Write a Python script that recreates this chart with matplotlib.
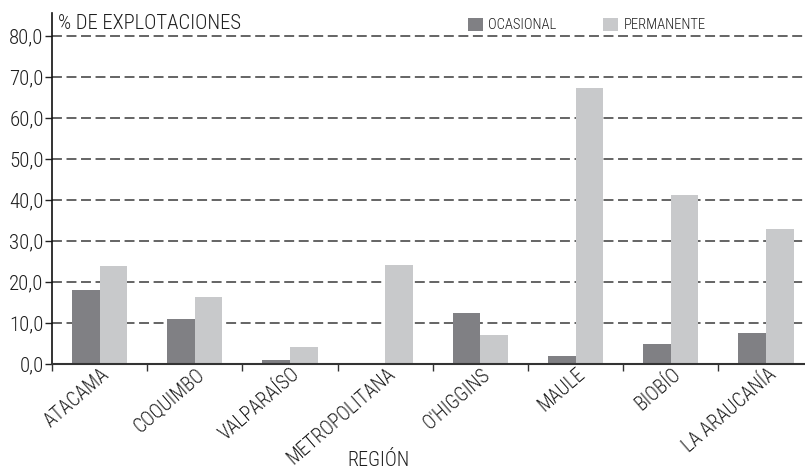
import matplotlib
matplotlib.use("Agg")
import matplotlib.pyplot as plt
from matplotlib.transforms import ScaledTranslation
import numpy as np

# data
regiones = ["ATACAMA", "COQUIMBO", "VALPARAÍSO", "METROPOLITANA",
            "O'HIGGINS", "MAULE", "BIOBÍO", "LA ARAUCANÍA"]
ocasional = [18.1, 10.9, 0.9, 0.0, 12.4, 1.9, 4.8, 7.5]
permanente = [23.8, 16.4, 4.1, 24.2, 7.0, 67.4, 41.3, 32.8]
yticks = [0, 10, 20, 30, 40, 50, 60, 70, 80]
ytick_labels = ["0,0", "10,0", "20,0", "30,0", "40,0", "50,0", "60,0", "70,0", "80,0"]

# condensed font like the original, with fallbacks
plt.rcParams['font.family'] = ['Roboto Condensed', 'Archivo Narrow', 'Barlow Condensed',
                               'Liberation Sans Narrow', 'DejaVu Sans']
plt.rcParams['font.weight'] = 'light'

c_dark = "#808084"
c_light = "#c8c9cb"
c_text = "#1e1e1e"

fig = plt.figure(figsize=(8.05, 4.71), dpi=100)
ax = fig.add_axes([0.0646, 0.2272, 0.9354, 0.7452])

x = np.arange(len(regiones))
w = 0.29
ax.bar(x - w / 2, ocasional, w, color=c_dark, zorder=3, label="OCASIONAL")
ax.bar(x + w / 2, permanente, w, color=c_light, zorder=3, label="PERMANENTE")

ax.set_xlim(-0.5, 7.41)
ax.set_ylim(0, 85.6)

# dashed grid lines
for v in yticks[1:]:
    ax.axhline(v, color="#3a3a3a", lw=1.1, ls=(0, (6.5, 3)), zorder=1)

ax.set_yticks(yticks)
ax.set_yticklabels(ytick_labels, fontsize=15, color=c_text)
ax.tick_params(axis="y", length=5, width=1, pad=1, color="#222222")

# ticks between the groups, labels at group centers
ax.set_xticks(np.arange(-0.5, 7.5, 1.0))
ax.set_xticklabels([])
ax.tick_params(axis="x", length=5, width=1, color="#333333")
ax.set_xticks(x, minor=True)
ax.set_xticklabels(regiones, minor=True, rotation=41, ha="right", va="top",
                   rotation_mode="anchor", fontsize=14.1, color=c_text)
ax.tick_params(axis="x", which="minor", length=0, pad=0.5)
shift = ScaledTranslation(1 / 100, 0, fig.dpi_scale_trans)
for lab in ax.get_xticklabels(minor=True):
    lab.set_transform(lab.get_transform() + shift)

for s in ["top", "right"]:
    ax.spines[s].set_visible(False)
ax.spines["left"].set_color("#111111")
ax.spines["left"].set_linewidth(1.2)
ax.spines["bottom"].set_color("#333333")
ax.spines["bottom"].set_linewidth(1.5)
ax.spines["bottom"].set_zorder(4)

ax.text(0.008, 0.997, "% DE EXPLOTACIONES", transform=ax.transAxes,
        ha="left", va="top", fontsize=14.9, color=c_text)

ax.legend(loc="upper left", bbox_to_anchor=(0.535, 1.022), ncol=2, frameon=False,
          fontsize=10.5, handlelength=1.0, handleheight=0.9, columnspacing=3.2,
          handletextpad=0.4, labelcolor=c_text)

fig.text(378 / 805, 1 - 461 / 471, "REGIÓN", ha="center", va="center",
         fontsize=14.5, color=c_text)

fig.savefig("out.png", dpi=100)
